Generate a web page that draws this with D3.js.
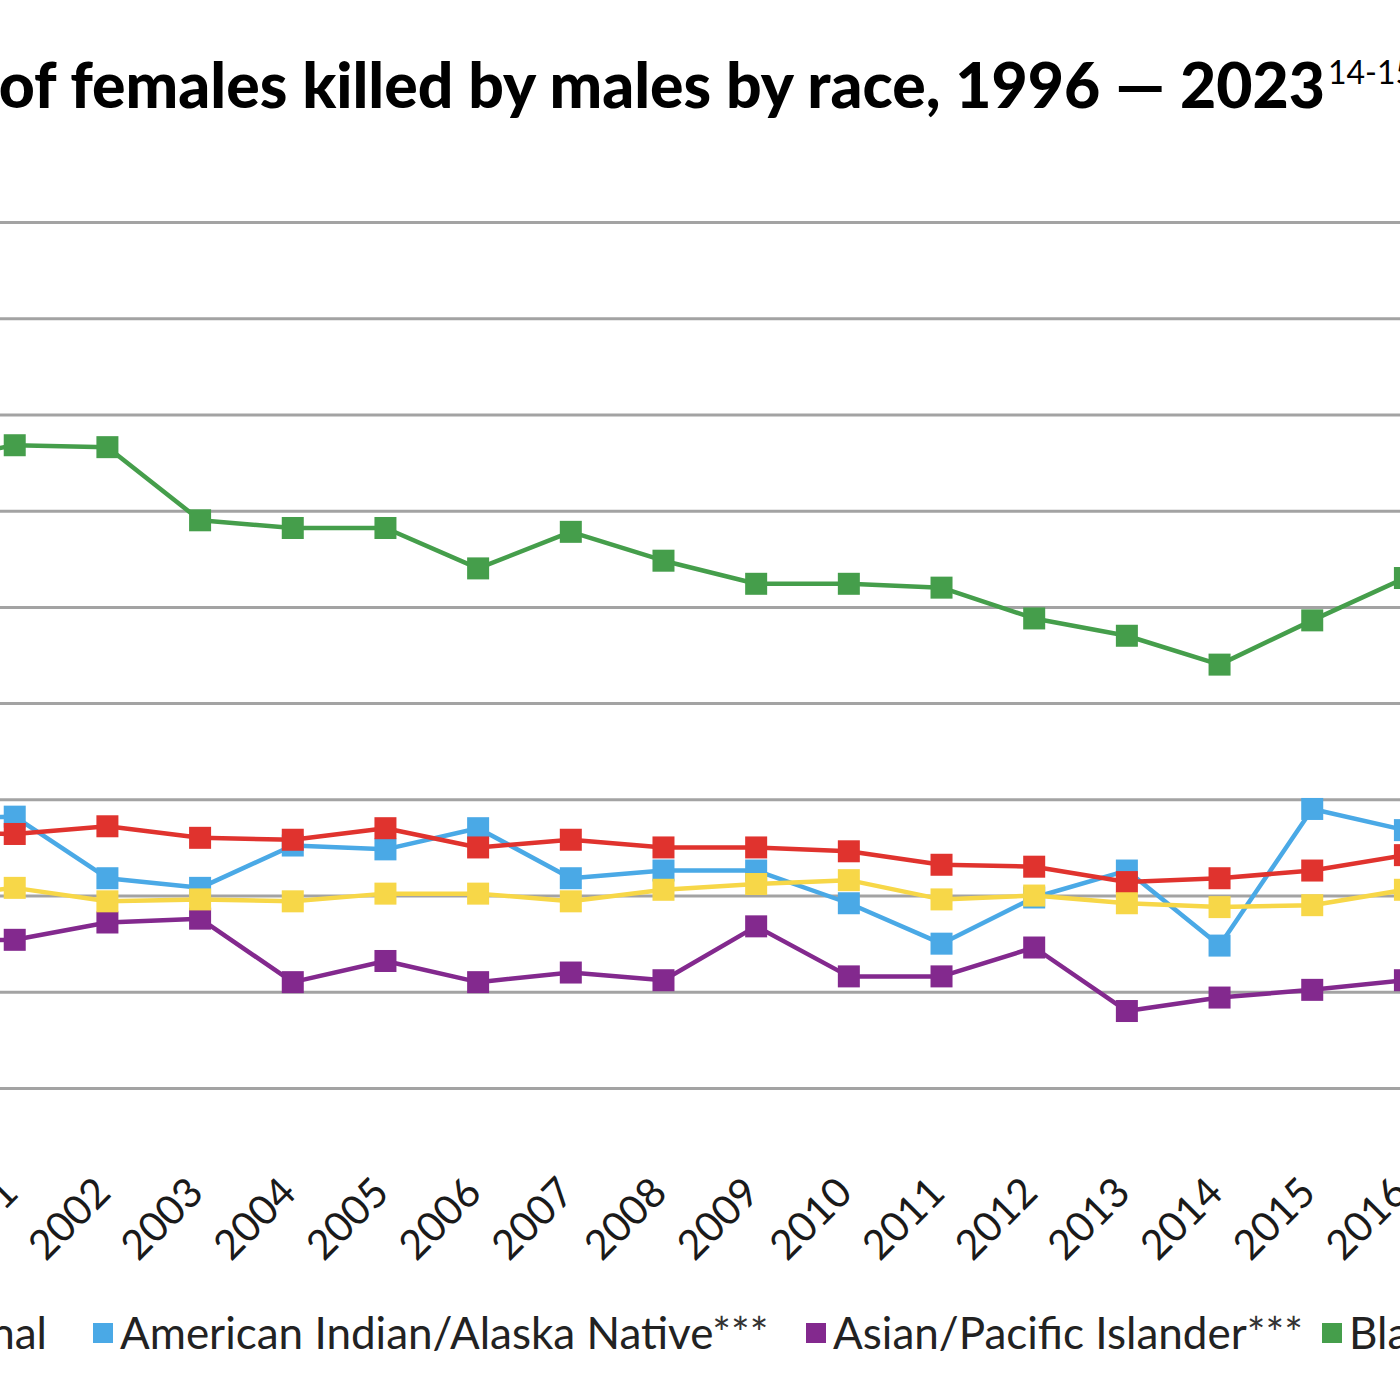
<!DOCTYPE html>
<html>
<head>
<meta charset="utf-8">
<script src="https://cdn.jsdelivr.net/npm/d3@7"></script>
<style>
  html, body { margin: 0; padding: 0; background: #fff; overflow: hidden; }
  svg { display: block; }
</style>
</head>
<body>
<div id="container"></div>
<script>
/* CONSTANTS AND GLOBALS */
const width = 1400;
const height = 1400;
// the chart is wider than the window: only the 2001-2016 part shows
const plotLeft = -495;
const plotRight = 2100;
const plotTop = 222;
const plotBottom = 1088;

/* DATA */
const axisYears = [1996, 1997, 1998, 1999, 2000, 2001, 2002, 2003, 2004, 2005, 2006, 2007,
  2008, 2009, 2010, 2011, 2012, 2013, 2014, 2015, 2016, 2017, 2018, 2019, 2020, 2021, 2022, 2023];
const years = [2000, 2001, 2002, 2003, 2004, 2005, 2006, 2007, 2008, 2009, 2010, 2011, 2012, 2013, 2014, 2015, 2016];
const yTicks = [0, 0.5, 1, 1.5, 2, 2.5, 3, 3.5, 4, 4.5];

const national = [1.33, 1.32, 1.36, 1.30, 1.29, 1.35, 1.25, 1.29, 1.25, 1.25, 1.23, 1.16, 1.15, 1.07, 1.09, 1.13, 1.21];
const aian     = [1.40, 1.41, 1.09, 1.04, 1.26, 1.24, 1.35, 1.09, 1.13, 1.13, 0.96, 0.75, 0.99, 1.13, 0.74, 1.45, 1.34];
const api      = [0.76, 0.77, 0.86, 0.88, 0.55, 0.66, 0.55, 0.60, 0.56, 0.84, 0.58, 0.58, 0.73, 0.40, 0.47, 0.51, 0.56];
const black    = [3.25, 3.34, 3.33, 2.95, 2.91, 2.91, 2.70, 2.89, 2.74, 2.62, 2.62, 2.60, 2.44, 2.35, 2.20, 2.43, 2.65];
const white    = [0.99, 1.04, 0.97, 0.98, 0.97, 1.01, 1.01, 0.97, 1.03, 1.06, 1.08, 0.98, 1.00, 0.96, 0.94, 0.95, 1.03];

const seriesNames = ["National", "American Indian/Alaska Native", "Asian/Pacific Islander", "Black", "White"];
const seriesStars = [false, true, true, false, false];
const seriesColors = ["#e0332e", "#4aa9e6", "#83298e", "#459e4b", "#f7d748"];
const seriesValues = [national, aian, api, black, white];
// drawing order (later on top)
const drawOrder = [1, 2, 3, 0, 4];

const series = seriesNames.map((name, i) => ({
  name: name,
  stars: seriesStars[i],
  color: seriesColors[i],
  values: years.map((y, j) => ({ year: y, value: seriesValues[i][j] }))
}));

/* SVG */
const svg = d3.select("#container").append("svg")
  .attr("width", width)
  .attr("height", height);

svg.append("rect")
  .attr("width", width)
  .attr("height", height)
  .attr("fill", "#fff");

/* SCALES */
const xScale = d3.scalePoint()
  .domain(axisYears)
  .range([plotLeft, plotRight])
  .padding(0.5);

const yScale = d3.scaleLinear()
  .domain([0, 4.5])
  .range([plotBottom, plotTop]);

/* GRIDLINES (the value labels sit off the left edge, so none are drawn) */
const yAxis = d3.axisLeft(yScale)
  .tickValues(yTicks)
  .tickSize(-(plotRight - plotLeft))
  .tickFormat("");

const gy = svg.append("g")
  .attr("transform", `translate(${plotLeft},0)`)
  .call(yAxis);
gy.select(".domain").remove();
gy.selectAll(".tick text").remove();
gy.selectAll(".tick line")
  .attr("stroke", "#a3a3a3")
  .attr("stroke-width", 3);

/* X AXIS */
const xAxis = d3.axisBottom(xScale).tickSize(0);
const gx = svg.append("g")
  .attr("transform", `translate(0,${plotBottom})`)
  .call(xAxis);
gx.select(".domain").remove();
gx.selectAll(".tick text")
  .attr("font-family", "Lato, sans-serif")
  .attr("font-size", 41)
  .attr("fill", "#1a1a1a")
  .attr("text-anchor", "end")
  .attr("transform", "translate(5,107) rotate(-45)")
  .attr("dy", 0)
  .attr("y", 0);

/* LINES */
const line = d3.line()
  .x(d => xScale(d.year))
  .y(d => yScale(d.value));

const markerSize = 22;

drawOrder.forEach(i => {
  const s = series[i];
  const g = svg.append("g").attr("class", "series");
  g.append("path")
    .datum(s.values)
    .attr("fill", "none")
    .attr("stroke", s.color)
    .attr("stroke-width", 4.5)
    .attr("stroke-linejoin", "round")
    .attr("d", line);
  g.selectAll("rect.marker")
    .data(s.values)
    .join("rect")
    .attr("class", "marker")
    .attr("x", d => xScale(d.year) - markerSize / 2)
    .attr("y", d => yScale(d.value) - markerSize / 2)
    .attr("width", markerSize)
    .attr("height", markerSize)
    .attr("fill", s.color);
});

/* TITLE */
svg.append("text")
  .attr("x", 1325)
  .attr("y", 108)
  .attr("text-anchor", "end")
  .attr("font-family", "Lato, sans-serif")
  .attr("font-weight", 900)
  .attr("font-size", 62.5)
  .attr("fill", "#000")
  .text("Homicide rate of females killed by males by race, 1996 — 2023");

svg.append("text")
  .attr("x", 1328)
  .attr("y", 84)
  .attr("font-family", "Lato, sans-serif")
  .attr("font-size", 32)
  .attr("fill", "#000")
  .text("14-15");

/* LEGEND */
const legendY = 1333;
const legendFont = 44;
// marker left edges for the entries that show in the window
const legendX = [null, 93, 806, 1322, 1800];

const legend = svg.append("g").attr("class", "legend");
const items = legend.selectAll("g.item")
  .data(series)
  .join("g")
  .attr("class", "item");

items.append("rect")
  .attr("width", 20)
  .attr("height", 20)
  .attr("y", legendY - 10)
  .attr("fill", d => d.color);

const labels = items.append("text")
  .attr("x", 27)
  .attr("y", legendY + 16)
  .attr("font-family", "Lato, sans-serif")
  .attr("font-size", legendFont)
  .attr("fill", "#222")
  .text(d => d.name);
labels.filter(d => d.stars)
  .append("tspan")
  .attr("fill", "#333")
  .text("***");

items.attr("transform", (d, i) => {
  let x = legendX[i];
  if (x === null) {
    const w = labels.nodes()[i].getComputedTextLength();
    x = legendX[1] - 46 - w - 27;
  }
  return `translate(${x},0)`;
});
</script>
</body>
</html>
